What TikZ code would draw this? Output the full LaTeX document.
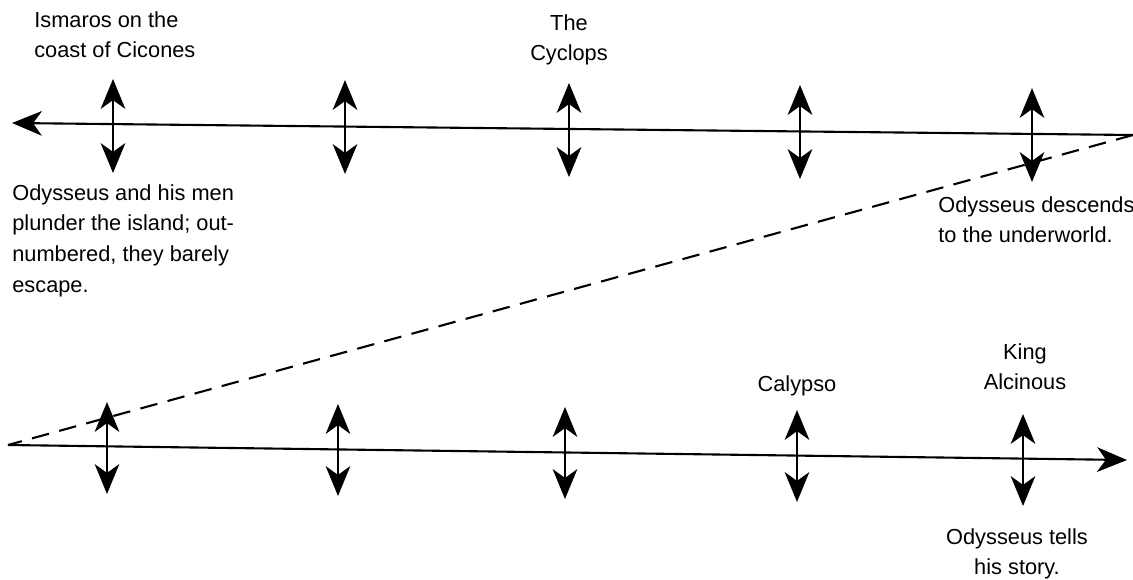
\documentclass[tikz,border=0pt]{standalone}
\usepackage{fontspec}
\setmainfont{Liberation Sans}
\usetikzlibrary{arrows.meta}
\tikzset{
  timeline/.style={line width=1.2pt},
  event/.style={line width=1.3pt, {Stealth[length=17pt,width=14pt,inset=5pt]}-{Stealth[length=17pt,width=14pt,inset=5pt]}},
  eventtext/.style={font=\fontsize{12.4}{17.5}\selectfont, inner sep=0pt}
}
\begin{document}
\begin{tikzpicture}[x=0.02cm, y=-0.02cm]
\useasboundingbox (0,0) rectangle (1133,579);
% ends of the two lines
\coordinate (topend) at (1133,135);
\coordinate (topstart) at (12,123);
\coordinate (botstart) at (8,445);
\coordinate (botend) at (1127,460);
\draw[timeline, -{Stealth[length=17pt,width=14pt,inset=5pt]}] (topend) -- (topstart);
\draw[timeline, -{Stealth[length=17pt,width=14pt,inset=5pt]}] (botstart) -- (botend);
\draw[timeline, dash pattern=on 10pt off 6pt] (topend) -- (botstart);
% events
\foreach \x/\y [count=\i] in {113/126, 345/127, 569/130, 800/132, 1032/135} {
  \coordinate (ta\i) at (\x,\y-47);
  \coordinate (tb\i) at (\x,\y+47);
  \draw[event] (ta\i) -- (tb\i);
}
\foreach \x/\y [count=\i] in {107/448, 338/450, 565/453, 797/456, 1023/460} {
  \coordinate (ba\i) at (\x,\y-46);
  \coordinate (bb\i) at (\x,\y+46);
  \draw[event] (ba\i) -- (bb\i);
}
% texts
\node[eventtext, anchor=north west, align=left] (ismaros) at (34,11)
  {Ismaros on the\\coast of Cicones};
\node[eventtext, anchor=north west, align=left] (plunder) at (12,184)
  {Odysseus and his men\\plunder the island; out-\\numbered, they barely\\escape.};
\node[eventtext, anchor=north, align=center] (cyclops) at (569,14)
  {The\\Cyclops};
\node[eventtext, anchor=north west, align=left] (underworld) at (938,196)
  {Odysseus descends\\to the underworld.};
\node[eventtext, anchor=north, align=center] (calypso) at (797,375)
  {Calypso};
\node[eventtext, anchor=north, align=center] (alcinous) at (1025,343)
  {King\\Alcinous};
\node[eventtext, anchor=north, align=center] (story) at (1017,528)
  {Odysseus tells\\his story.};
\end{tikzpicture}
\end{document}
